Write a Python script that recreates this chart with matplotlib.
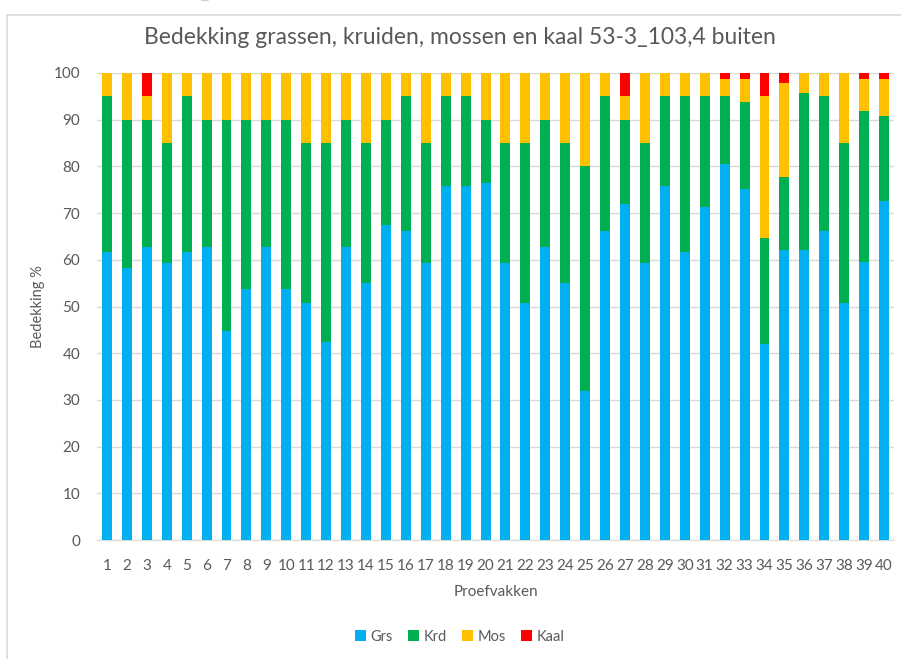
import numpy as np
import matplotlib.pyplot as plt
from matplotlib.patches import Rectangle

plt.rcParams['font.family'] = ['Lato', 'DejaVu Sans']

# Cover per plot (%)
proefvak = list(range(1, 41))
grs = [61.6, 58.2, 62.7, 59.4, 61.6, 62.7, 44.8, 53.8, 62.7, 53.8,
       50.7, 42.3, 62.7, 55.1, 67.4, 66.2, 59.4, 75.7, 75.7, 76.4,
       59.4, 50.7, 62.7, 55.1, 31.8, 66.2, 71.9, 59.4, 75.7, 61.6,
       71.2, 80.5, 75.1, 42.0, 62.1, 62.1, 66.2, 50.7, 59.6, 72.6]
# cumulative tops of each layer
top_krd = [95, 90, 90, 85, 95, 90, 90, 90, 90, 90,
           85, 85, 90, 85, 90, 95, 85, 95, 95, 90,
           85, 85, 90, 85, 80, 95, 90, 85, 95, 95,
           95, 95, 93.7, 64.7, 77.8, 95.8, 95, 85, 91.9, 90.7]
top_mos = [100, 100, 95, 100, 100, 100, 100, 100, 100, 100,
           100, 100, 100, 100, 100, 100, 100, 100, 100, 100,
           100, 100, 100, 100, 100, 100, 95, 100, 100, 100,
           100, 98.8, 98.8, 95, 97.9, 100, 100, 100, 98.8, 98.8]

krd = [k - g for k, g in zip(top_krd, grs)]
mos = [m - k for m, k in zip(top_mos, top_krd)]
kaal = [100 - m for m in top_mos]

series = [("Grs", grs, "#00B0F0"), ("Krd", krd, "#00B050"),
          ("Mos", mos, "#FFC000"), ("Kaal", kaal, "#FF0000")]

fig = plt.figure(figsize=(9.01, 6.59), dpi=100)
ax = fig.add_axes([97 / 901, 119 / 659, 797 / 901, 467 / 659])

# chart frame (cut off at right and bottom in the screenshot)
fig.patches.append(Rectangle((7 / 901, -0.1), 1.2, (659 - 15) / 659 + 0.1,
                             transform=fig.transFigure, fill=False,
                             edgecolor="#D9D9D9", linewidth=1.2))
# clipped caption above the chart
fig.text(0.07, 1.0 + 9 / 659, "Resultaten 53-3_103, 4 buiten tabel",
         fontsize=14, color="#404040", va="center", ha="left")

bottom = np.zeros(len(proefvak))
for name, vals, col in series:
    ax.bar(proefvak, vals, width=0.5, bottom=bottom, color=col,
           label=name, zorder=3)
    bottom += np.array(vals)

ax.set_xlim(0.5, 40.5)
ax.set_ylim(0, 100)
ax.set_yticks(range(0, 101, 10))
ax.set_xticks(proefvak)
ax.yaxis.grid(True, color="#D9D9D9", linewidth=1, zorder=0)
ax.tick_params(length=0, labelsize=11, labelcolor="#595959")
ax.tick_params(axis="x", pad=14)
ax.tick_params(axis="y", pad=12)
for s in ["left", "right", "top"]:
    ax.spines[s].set_visible(False)
ax.spines["bottom"].set_color("#D9D9D9")

fig.text(460 / 901, 1 - 38 / 659,
         "Bedekking grassen, kruiden, mossen en kaal 53-3_103,4 buiten",
         fontsize=16.5, color="#595959", ha="center", va="center")
ax.set_ylabel("Bedekking %", fontsize=10.5, color="#595959", labelpad=6)
ax.set_xlabel("Proefvakken", fontsize=11, color="#595959", labelpad=8)

ax.legend(loc="center", bbox_to_anchor=(0.455, -0.207), ncol=4, frameon=False,
          fontsize=10.5, labelcolor="#595959", handlelength=0.8,
          handleheight=0.8, handletextpad=0.3, columnspacing=1.0)

fig.savefig("out.png", dpi=100)
